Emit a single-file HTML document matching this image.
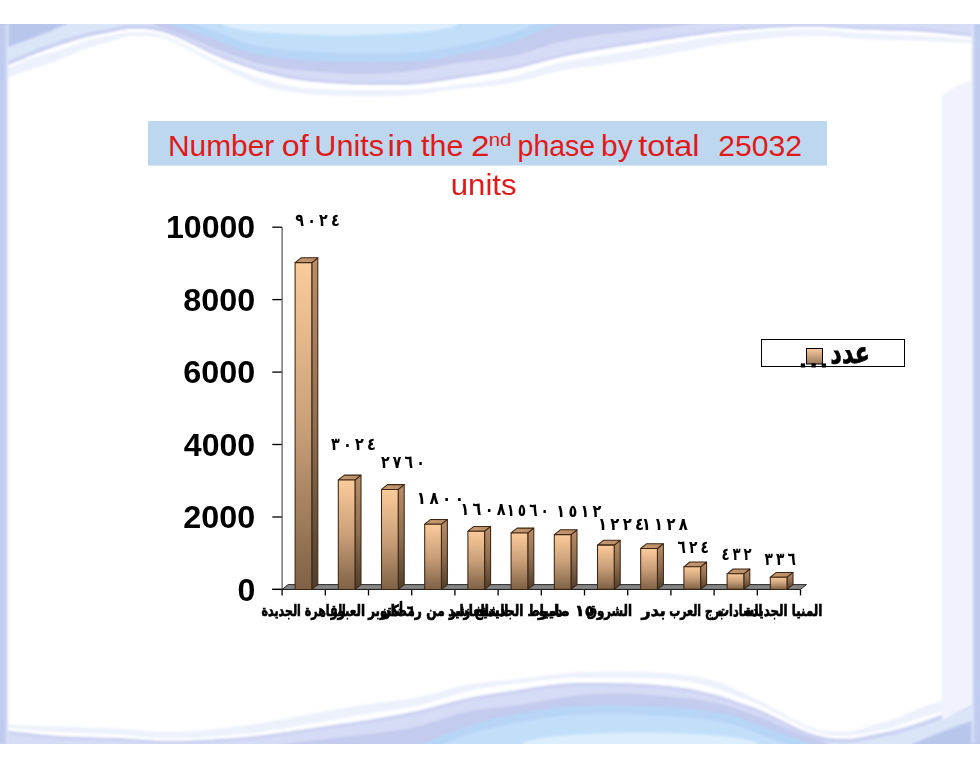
<!DOCTYPE html>
<html lang="ar"><head><meta charset="utf-8"><title>Number of Units in the 2nd phase</title>
<style>
html,body{margin:0;padding:0;background:#fff;}
body{width:980px;height:768px;overflow:hidden;position:relative;font-family:"Liberation Sans","DejaVu Sans",sans-serif;}
svg{position:absolute;left:0;top:0;display:block}
text{font-family:"Liberation Sans","DejaVu Sans",sans-serif;text-anchor:start}
.ttl{font-size:29px;fill:#e01a1a}
.sup{font-size:19px;fill:#e01a1a}
.ax{font-weight:bold;font-size:31px;fill:#000}
.dl{font-family:"DejaVu Sans","Liberation Sans",sans-serif;font-weight:bold;font-size:17.5px;fill:#000}
.cat{font-family:"DejaVu Sans","Liberation Sans",sans-serif;font-weight:bold;font-size:15.5px;fill:#000;stroke:#000;stroke-width:0.7px}
.leg{font-family:"DejaVu Sans","Liberation Sans",sans-serif;font-weight:bold;font-size:19px;fill:#000;stroke:#000;stroke-width:0.5px}
</style></head><body>
<svg width="980" height="768" viewBox="0 0 980 768">
<defs>
<linearGradient id="gf" x1="0" y1="0" x2="0" y2="1"><stop offset="0" stop-color="#fbcb9b"/><stop offset="0.5" stop-color="#caa079"/><stop offset="1" stop-color="#7e6146"/></linearGradient>
<linearGradient id="gs" x1="0" y1="0" x2="0" y2="1"><stop offset="0" stop-color="#b98e69"/><stop offset="0.5" stop-color="#8f6e51"/><stop offset="1" stop-color="#4f3d2c"/></linearGradient>
<linearGradient id="gt" x1="0" y1="0" x2="1" y2="0"><stop offset="0" stop-color="#c89b72"/><stop offset="1" stop-color="#b88c66"/></linearGradient>
<linearGradient id="gl" x1="0" y1="0" x2="0" y2="1"><stop offset="0" stop-color="#f7cba0"/><stop offset="1" stop-color="#9a775a"/></linearGradient>
<linearGradient id="wv" x1="0" y1="24" x2="0" y2="92" gradientUnits="userSpaceOnUse"><stop offset="0" stop-color="#cfe1f7"/><stop offset="0.55" stop-color="#bdd4f1"/><stop offset="1" stop-color="#c2cdef"/></linearGradient>
<linearGradient id="edge" x1="0" y1="0" x2="1" y2="0"><stop offset="0" stop-color="#bcc8ee"/><stop offset="0.7" stop-color="#c3cef0"/><stop offset="1" stop-color="#e8edfa"/></linearGradient>
<filter id="bl" x="-5%" y="-20%" width="110%" height="140%"><feGaussianBlur stdDeviation="0.9"/></filter>
<clipPath id="slide"><rect x="0" y="24" width="980" height="720"/></clipPath>
<g id="wave">
<path d="M-5,20 L-5,84 L1.0,81.1 L7.0,78.4 L13.0,75.9 L19.0,73.6 L25.0,71.4 L31.0,69.4 L37.0,67.3 L43.0,65.4 L49.0,63.4 L55.0,61.4 L61.0,59.1 L67.0,56.6 L73.0,53.9 L79.0,51.3 L85.0,49.0 L91.0,47.1 L97.0,45.4 L103.0,43.8 L109.0,42.1 L115.0,40.2 L121.0,38.2 L127.0,36.7 L133.0,36.2 L139.0,36.0 L145.0,36.0 L151.0,36.3 L157.0,37.1 L163.0,38.3 L169.0,40.4 L175.0,43.1 L181.0,46.0 L187.0,49.0 L193.0,52.1 L199.0,55.4 L205.0,58.6 L211.0,61.9 L217.0,65.2 L223.0,68.2 L229.0,71.1 L235.0,73.9 L241.0,76.6 L247.0,79.4 L253.0,82.2 L259.0,84.7 L265.0,86.5 L271.0,88.2 L277.0,89.6 L283.0,90.7 L289.0,91.7 L295.0,92.5 L301.0,93.2 L307.0,93.8 L313.0,94.2 L319.0,94.7 L325.0,95.1 L331.0,95.4 L337.0,95.8 L343.0,96.0 L349.0,96.3 L355.0,96.4 L361.0,96.5 L367.0,96.5 L373.0,96.5 L379.0,96.4 L385.0,96.3 L391.0,96.1 L397.0,95.8 L403.0,95.5 L409.0,95.1 L415.0,94.6 L421.0,93.9 L427.0,93.2 L433.0,92.4 L439.0,91.5 L445.0,90.6 L451.0,89.8 L457.0,89.0 L463.0,88.4 L469.0,87.8 L475.0,87.3 L481.0,86.8 L487.0,86.3 L493.0,85.7 L499.0,85.1 L505.0,84.3 L511.0,83.3 L517.0,82.1 L523.0,80.7 L529.0,79.1 L535.0,77.5 L541.0,75.8 L547.0,74.1 L553.0,72.6 L559.0,71.2 L565.0,70.0 L571.0,69.0 L577.0,68.1 L583.0,67.3 L589.0,66.5 L595.0,65.7 L601.0,64.9 L607.0,64.1 L613.0,63.3 L619.0,62.4 L625.0,61.4 L631.0,60.5 L637.0,59.5 L643.0,58.5 L649.0,57.4 L655.0,56.4 L661.0,55.3 L667.0,54.2 L673.0,53.1 L679.0,52.0 L685.0,50.9 L691.0,49.7 L697.0,48.6 L703.0,47.5 L709.0,46.4 L715.0,45.3 L721.0,44.3 L727.0,43.4 L733.0,42.5 L739.0,41.7 L745.0,41.0 L751.0,40.3 L757.0,39.6 L763.0,38.9 L769.0,38.3 L775.0,37.8 L781.0,37.3 L787.0,36.8 L793.0,36.5 L799.0,36.2 L805.0,36.0 L811.0,35.9 L817.0,36.0 L823.0,36.1 L829.0,36.4 L835.0,36.9 L841.0,37.4 L847.0,38.0 L853.0,38.5 L859.0,38.9 L865.0,39.3 L871.0,39.5 L877.0,39.8 L883.0,40.0 L889.0,40.2 L895.0,40.3 L901.0,40.5 L907.0,40.6 L913.0,40.7 L919.0,40.9 L925.0,41.1 L931.0,41.3 L937.0,41.5 L943.0,41.8 L949.0,42.0 L955.0,42.3 L961.0,42.6 L967.0,42.9 L973.0,43.2 L979.0,43.6 L985.0,44.0 L985,20 Z" fill="#ecf1fc"/>
<path d="M-5,20 L-5,73 L1.0,70.7 L7.0,68.4 L13.0,65.9 L19.0,63.3 L25.0,60.8 L31.0,58.4 L37.0,56.4 L43.0,54.6 L49.0,53.1 L55.0,51.5 L61.0,49.7 L67.0,47.5 L73.0,45.2 L79.0,43.0 L85.0,41.0 L91.0,39.4 L97.0,38.1 L103.0,36.8 L109.0,35.7 L115.0,34.5 L121.0,33.3 L127.0,32.5 L133.0,32.2 L139.0,32.1 L145.0,32.2 L151.0,32.8 L157.0,33.8 L163.0,35.3 L169.0,37.3 L175.0,39.8 L181.0,42.5 L187.0,45.5 L193.0,48.7 L199.0,51.9 L205.0,55.0 L211.0,58.1 L217.0,61.0 L223.0,63.7 L229.0,66.2 L235.0,68.5 L241.0,70.7 L247.0,73.1 L253.0,75.5 L259.0,77.7 L265.0,79.6 L271.0,81.3 L277.0,82.9 L283.0,84.4 L289.0,85.6 L295.0,86.7 L301.0,87.6 L307.0,88.3 L313.0,88.7 L319.0,89.1 L325.0,89.3 L331.0,89.5 L337.0,89.7 L343.0,89.8 L349.0,89.9 L355.0,90.0 L361.0,90.0 L367.0,90.0 L373.0,90.1 L379.0,90.1 L385.0,90.1 L391.0,90.1 L397.0,90.0 L403.0,89.9 L409.0,89.7 L415.0,89.5 L421.0,89.1 L427.0,88.5 L433.0,87.9 L439.0,87.2 L445.0,86.4 L451.0,85.6 L457.0,84.9 L463.0,84.1 L469.0,83.4 L475.0,82.7 L481.0,81.9 L487.0,81.1 L493.0,80.2 L499.0,79.2 L505.0,78.0 L511.0,76.8 L517.0,75.3 L523.0,73.6 L529.0,71.8 L535.0,69.9 L541.0,67.9 L547.0,66.1 L553.0,64.4 L559.0,62.8 L565.0,61.5 L571.0,60.4 L577.0,59.3 L583.0,58.3 L589.0,57.4 L595.0,56.6 L601.0,55.7 L607.0,54.8 L613.0,53.8 L619.0,52.8 L625.0,51.8 L631.0,50.7 L637.0,49.6 L643.0,48.5 L649.0,47.4 L655.0,46.4 L661.0,45.3 L667.0,44.3 L673.0,43.2 L679.0,42.2 L685.0,41.2 L691.0,40.1 L697.0,39.1 L703.0,38.2 L709.0,37.2 L715.0,36.4 L721.0,35.5 L727.0,34.8 L733.0,34.1 L739.0,33.5 L745.0,32.9 L751.0,32.4 L757.0,31.9 L763.0,31.5 L769.0,31.1 L775.0,30.7 L781.0,30.4 L787.0,30.1 L793.0,29.9 L799.0,29.7 L805.0,29.7 L811.0,29.7 L817.0,29.7 L823.0,29.9 L829.0,30.3 L835.0,30.7 L841.0,31.3 L847.0,31.9 L853.0,32.5 L859.0,32.9 L865.0,33.3 L871.0,33.6 L877.0,33.9 L883.0,34.1 L889.0,34.3 L895.0,34.5 L901.0,34.7 L907.0,34.9 L913.0,35.2 L919.0,35.4 L925.0,35.8 L931.0,36.2 L937.0,36.6 L943.0,37.1 L949.0,37.7 L955.0,38.2 L961.0,38.8 L967.0,39.3 L973.0,39.9 L979.0,40.4 L985.0,41.0 L985,20 Z" fill="#ffffff"/>
<path d="M-5,20 L-5,70 L1.0,67.7 L7.0,65.4 L13.0,63.0 L19.0,60.5 L25.0,58.0 L31.0,55.6 L37.0,53.2 L43.0,51.0 L49.0,48.8 L55.0,46.7 L61.0,44.7 L67.0,42.7 L73.0,40.8 L79.0,39.1 L85.0,37.5 L91.0,36.1 L97.0,34.9 L103.0,33.8 L109.0,32.6 L115.0,31.3 L121.0,29.9 L127.0,29.1 L133.0,28.8 L139.0,28.8 L145.0,29.0 L151.0,29.6 L157.0,30.7 L163.0,32.1 L169.0,34.0 L175.0,36.2 L181.0,38.7 L187.0,41.4 L193.0,44.4 L199.0,47.5 L205.0,50.5 L211.0,53.4 L217.0,56.2 L223.0,58.7 L229.0,61.0 L235.0,63.1 L241.0,65.1 L247.0,67.2 L253.0,69.3 L259.0,71.2 L265.0,72.9 L271.0,74.4 L277.0,75.9 L283.0,77.2 L289.0,78.4 L295.0,79.4 L301.0,80.3 L307.0,81.1 L313.0,81.7 L319.0,82.3 L325.0,82.8 L331.0,83.2 L337.0,83.6 L343.0,83.9 L349.0,84.2 L355.0,84.4 L361.0,84.5 L367.0,84.6 L373.0,84.7 L379.0,84.8 L385.0,84.8 L391.0,84.8 L397.0,84.8 L403.0,84.7 L409.0,84.5 L415.0,84.2 L421.0,83.7 L427.0,83.1 L433.0,82.2 L439.0,81.3 L445.0,80.4 L451.0,79.4 L457.0,78.4 L463.0,77.6 L469.0,76.7 L475.0,75.8 L481.0,75.0 L487.0,74.1 L493.0,73.1 L499.0,72.1 L505.0,71.0 L511.0,69.8 L517.0,68.5 L523.0,67.0 L529.0,65.4 L535.0,63.8 L541.0,62.2 L547.0,60.6 L553.0,59.1 L559.0,57.6 L565.0,56.3 L571.0,55.0 L577.0,53.8 L583.0,52.7 L589.0,51.6 L595.0,50.5 L601.0,49.5 L607.0,48.5 L613.0,47.5 L619.0,46.6 L625.0,45.7 L631.0,44.8 L637.0,43.9 L643.0,43.0 L649.0,42.2 L655.0,41.3 L661.0,40.5 L667.0,39.6 L673.0,38.7 L679.0,37.8 L685.0,37.0 L691.0,36.1 L697.0,35.2 L703.0,34.4 L709.0,33.6 L715.0,32.8 L721.0,32.1 L727.0,31.4 L733.0,30.8 L739.0,30.3 L745.0,29.8 L751.0,29.3 L757.0,28.9 L763.0,28.5 L769.0,28.1 L775.0,27.8 L781.0,27.5 L787.0,27.3 L793.0,27.1 L799.0,27.0 L805.0,26.9 L811.0,26.9 L817.0,26.9 L823.0,27.1 L829.0,27.4 L835.0,27.7 L841.0,28.2 L847.0,28.6 L853.0,29.1 L859.0,29.4 L865.0,29.7 L871.0,30.0 L877.0,30.1 L883.0,30.3 L889.0,30.5 L895.0,30.6 L901.0,30.8 L907.0,31.0 L913.0,31.2 L919.0,31.5 L925.0,31.9 L931.0,32.4 L937.0,32.9 L943.0,33.5 L949.0,34.2 L955.0,34.9 L961.0,35.5 L967.0,36.2 L973.0,36.8 L979.0,37.4 L985.0,38.0 L985,20 Z" fill="#d5dcf5"/>
<path d="M-5,20 L-5,70 L1.0,67.7 L7.0,65.4 L13.0,63.0 L19.0,60.5 L25.0,58.0 L31.0,55.6 L37.0,53.2 L43.0,51.0 L49.0,48.8 L55.0,46.7 L61.0,44.7 L67.0,42.7 L73.0,40.8 L79.0,39.1 L85.0,37.5 L91.0,36.1 L97.0,34.9 L103.0,33.8 L109.0,32.6 L115.0,31.3 L121.0,30.0 L127.0,29.1 L133.0,28.8 L139.0,28.8 L145.0,29.0 L151.0,29.7 L157.0,30.8 L160.0,31.4 L160,20 Z" fill="#dae5f8"/>
<path d="M-5,68 L1.0,65.7 L7.0,63.4 L13.0,61.0 L19.0,58.5 L25.0,56.0 L31.0,53.6 L37.0,51.2 L43.0,49.0 L49.0,46.8 L55.0,44.7 L61.0,42.7 L67.0,40.7 L73.0,38.8 L79.0,37.1 L85.0,35.5 L91.0,34.1 L97.0,32.9 L103.0,31.8 L109.0,30.6 L115.0,29.3 L121.0,27.9 L127.0,27.1 L133.0,26.8 L139.0,26.8 L145.0,27.0 L151.0,27.6 L157.0,28.7 L163.0,30.2 L169.0,32.0 L175.0,34.2 L181.0,36.7" fill="none" stroke="#cad2f2" stroke-width="4"/>
<path d="M181,37.2 L187.0,40.2 L193.0,43.1 L199.0,46.0 L205.0,49.0 L211.0,51.9 L217.0,54.6 L223.0,57.2 L229.0,59.5 L235.0,61.6 L241.0,63.6 L247.0,65.7 L253.0,67.8 L259.0,69.7 L265.0,71.4 L271.0,72.9 L277.0,74.4 L283.0,75.7 L289.0,76.9 L295.0,77.9 L301.0,78.8 L307.0,79.6 L313.0,80.2 L319.0,80.8 L325.0,81.3 L331.0,81.7 L337.0,82.1 L343.0,82.4 L349.0,82.7 L355.0,82.9 L361.0,83.0 L367.0,83.1 L373.0,83.2 L379.0,83.3 L385.0,83.3 L391.0,83.3 L397.0,83.3 L403.0,83.2 L409.0,83.0 L415.0,82.7 L421.0,82.2 L427.0,81.6 L433.0,80.7 L439.0,79.8 L445.0,78.9 L451.0,77.9 L457.0,76.9 L463.0,76.1 L469.0,75.2 L475.0,74.3 L481.0,73.5 L487.0,72.6 L493.0,71.6 L499.0,70.6 L505.0,69.5 L511.0,68.3 L517.0,67.0 L523.0,65.5 L529.0,63.9 L535.0,62.3 L541.0,60.7 L547.0,59.1 L553.0,57.6 L559.0,56.1 L565.0,54.8 L571.0,53.5 L577.0,52.3 L583.0,51.2 L589.0,50.1 L595.0,49.0 L601.0,48.0 L607.0,47.0 L613.0,46.0 L619.0,45.1 L625.0,44.2 L631.0,43.3 L637.0,42.4 L643.0,41.5 L649.0,40.7 L655.0,39.8 L661.0,39.0 L667.0,38.1 L673.0,37.2 L679.0,36.3 L685.0,35.5 L691.0,34.6 L697.0,33.7 L703.0,32.9 L709.0,32.1 L715.0,31.3 L721.0,30.6 L727.0,29.9 L733.0,29.3 L739.0,28.8 L745.0,28.3 L751.0,27.8 L757.0,27.4 L763.0,27.0 L769.0,26.6 L775.0,26.3 L781.0,26.0 L787.0,25.8 L793.0,25.6 L799.0,25.5 L805.0,25.4 L811.0,25.4 L817.0,25.4 L823.0,25.6 L829.0,25.9 L835.0,26.2 L841.0,26.7 L847.0,27.1 L853.0,27.6 L859.0,27.9 L865.0,28.2 L871.0,28.5 L877.0,28.6 L883.0,28.8 L889.0,29.0 L895.0,29.1 L901.0,29.3 L907.0,29.5 L913.0,29.7 L919.0,30.0 L925.0,30.4 L931.0,30.9 L937.0,31.4 L943.0,32.0 L949.0,32.7 L955.0,33.4 L961.0,34.0 L967.0,34.7 L973.0,35.3 L979.0,35.9 L985.0,36.5" fill="none" stroke="#ccd2f2" stroke-width="3"/>
<path d="M150,20 L150,23 L156.0,25.5 L162.0,27.7 L168.0,29.7 L174.0,31.6 L180.0,33.6 L186.0,36.0 L192.0,38.6 L198.0,41.2 L204.0,43.9 L210.0,46.5 L216.0,49.0 L222.0,51.3 L228.0,53.5 L234.0,55.5 L240.0,57.5 L246.0,59.5 L252.0,61.4 L258.0,63.2 L264.0,64.6 L270.0,65.8 L276.0,66.9 L282.0,67.9 L288.0,68.7 L294.0,69.4 L300.0,70.1 L306.0,70.7 L312.0,71.2 L318.0,71.7 L324.0,72.2 L330.0,72.6 L336.0,73.1 L342.0,73.4 L348.0,73.7 L354.0,73.9 L360.0,74.0 L366.0,74.0 L372.0,73.9 L378.0,73.6 L384.0,73.3 L390.0,72.9 L396.0,72.4 L402.0,71.9 L408.0,71.2 L414.0,70.5 L420.0,69.6 L426.0,68.6 L432.0,67.5 L438.0,66.4 L444.0,65.2 L450.0,64.2 L456.0,63.2 L462.0,62.3 L468.0,61.6 L474.0,61.0 L480.0,60.4 L486.0,59.8 L492.0,59.1 L498.0,58.3 L504.0,57.5 L510.0,56.4 L516.0,55.1 L522.0,53.5 L528.0,51.6 L534.0,49.7 L540.0,47.7 L546.0,45.8 L552.0,43.9 L558.0,42.3 L564.0,40.9 L570.0,39.6 L576.0,38.5 L582.0,37.4 L588.0,36.5 L594.0,35.6 L600.0,34.8 L606.0,34.0 L612.0,33.3 L618.0,32.6 L624.0,31.9 L630.0,31.2 L636.0,30.6 L642.0,30.0 L648.0,29.3 L654.0,28.7 L660.0,28.0 L666.0,27.3 L672.0,26.6 L678.0,25.8 L684.0,25.1 L690.0,24.3 L696.0,23.5 L700.0,23.0 L700,20 Z" fill="#c3cbee"/>
<path d="M168,20 L168,23 L174.0,25.5 L180.0,27.9 L186.0,30.1 L192.0,32.2 L198.0,34.2 L204.0,36.2 L210.0,38.2 L216.0,40.4 L222.0,42.6 L228.0,45.1 L234.0,47.6 L240.0,50.0 L246.0,51.9 L252.0,53.4 L258.0,54.7 L264.0,55.6 L270.0,56.5 L276.0,57.4 L282.0,58.1 L288.0,58.7 L294.0,59.3 L300.0,59.8 L306.0,60.2 L312.0,60.6 L318.0,61.0 L324.0,61.3 L330.0,61.6 L336.0,61.9 L342.0,62.2 L348.0,62.4 L354.0,62.5 L360.0,62.6 L366.0,62.6 L372.0,62.7 L378.0,62.6 L384.0,62.6 L390.0,62.4 L396.0,62.3 L402.0,62.0 L408.0,61.7 L414.0,61.3 L420.0,60.7 L426.0,60.0 L432.0,59.1 L438.0,58.2 L444.0,57.2 L450.0,56.1 L456.0,55.0 L462.0,53.9 L468.0,52.8 L474.0,51.7 L480.0,50.5 L486.0,49.2 L492.0,47.8 L498.0,46.3 L504.0,44.6 L510.0,42.8 L516.0,40.7 L522.0,38.4 L528.0,36.0 L534.0,33.5 L540.0,31.0 L546.0,28.6 L552.0,26.2 L558.0,23.8 L560.0,23.0 L560,20 Z" fill="#b7d5f6"/>
<path d="M168,20 L168,14 L174.0,16.5 L180.0,18.9 L186.0,21.1 L192.0,23.2 L198.0,25.2 L204.0,27.2 L210.0,29.2 L216.0,31.4 L222.0,33.6 L228.0,36.1 L234.0,38.6 L240.0,41.0 L246.0,42.9 L252.0,44.4 L258.0,45.7 L264.0,46.6 L270.0,47.5 L276.0,48.4 L282.0,49.1 L288.0,49.7 L294.0,50.3 L300.0,50.8 L306.0,51.2 L312.0,51.6 L318.0,52.0 L324.0,52.3 L330.0,52.6 L336.0,52.9 L342.0,53.2 L348.0,53.4 L354.0,53.5 L360.0,53.6 L366.0,53.6 L372.0,53.7 L378.0,53.6 L384.0,53.6 L390.0,53.4 L396.0,53.3 L402.0,53.0 L408.0,52.7 L414.0,52.3 L420.0,51.7 L426.0,51.0 L432.0,50.1 L438.0,49.2 L444.0,48.2 L450.0,47.1 L456.0,46.0 L462.0,44.9 L468.0,43.8 L474.0,42.7 L480.0,41.5 L486.0,40.2 L492.0,38.8 L498.0,37.3 L504.0,35.6 L510.0,33.8 L516.0,31.7 L522.0,29.4 L528.0,27.0 L534.0,24.5 L540.0,22.0 L546.0,19.6 L552.0,17.2 L558.0,14.8 L560.0,14.0 L560,20 Z" fill="#c2dffa"/>
<ellipse cx="340" cy="23" rx="118" ry="12" fill="#dceefd"/>
<path d="M-5,20 L70,20 L67,24 C45,34 25,41 7,47.6 L-5,52 Z" fill="#b9c6ec"/>
</g>
</defs>
<g clip-path="url(#slide)">
<g filter="url(#bl)">
<use href="#wave"/>
<use href="#wave" transform="rotate(180 490 383.85)"/>
<rect x="-1.5" y="24" width="9.8" height="720" fill="url(#edge)"/>
<rect x="-1.5" y="24" width="9.8" height="720" fill="url(#edge)" transform="rotate(180 490 383.85)"/>
<path d="M942,96 C950,88 962,84 972,80 L972,705 L942,720 Z" fill="#f1f3fc"/>
</g>
</g>

<rect x="148" y="121" width="679" height="44.6" fill="#bdd7ee"/>
<g stroke="#000" stroke-width="1.3" fill="none">
<line x1="272.3" y1="589.4" x2="282.1" y2="589.4"/>
<line x1="272.3" y1="517.0" x2="282.1" y2="517.0"/>
<line x1="272.3" y1="444.5" x2="282.1" y2="444.5"/>
<line x1="272.3" y1="372.1" x2="282.1" y2="372.1"/>
<line x1="272.3" y1="299.6" x2="282.1" y2="299.6"/>
<line x1="272.3" y1="227.2" x2="282.1" y2="227.2"/>
<line x1="272.3" y1="589.4" x2="800.5" y2="589.4"/>
<line x1="282.1" y1="589.4" x2="282.1" y2="595.4"/>
<line x1="325.3" y1="589.4" x2="325.3" y2="595.4"/>
<line x1="368.5" y1="589.4" x2="368.5" y2="595.4"/>
<line x1="411.7" y1="589.4" x2="411.7" y2="595.4"/>
<line x1="454.9" y1="589.4" x2="454.9" y2="595.4"/>
<line x1="498.1" y1="589.4" x2="498.1" y2="595.4"/>
<line x1="541.3" y1="589.4" x2="541.3" y2="595.4"/>
<line x1="584.5" y1="589.4" x2="584.5" y2="595.4"/>
<line x1="627.7" y1="589.4" x2="627.7" y2="595.4"/>
<line x1="670.9" y1="589.4" x2="670.9" y2="595.4"/>
<line x1="714.1" y1="589.4" x2="714.1" y2="595.4"/>
<line x1="757.3" y1="589.4" x2="757.3" y2="595.4"/>
<line x1="800.5" y1="589.4" x2="800.5" y2="595.4"/>
</g>
<line x1="282.1" y1="227" x2="282.1" y2="589.4" stroke="#555" stroke-width="1.2"/>
<path d="M282.1,589.4 L288.1,584.6 L806.5,584.6 L800.5,589.4 Z" fill="#858585" stroke="#1a1a1a" stroke-width="0.9"/>
<g stroke="#3d2612" stroke-width="1.05" stroke-linejoin="round">
<path d="M311.8,262.6 l6.0,-4.8 V584.6 l-6.0,4.8 Z" fill="url(#gs)"/>
<path d="M295.1,262.6 l6.0,-4.8 h16.7 l-6.0,4.8 Z" fill="url(#gt)"/>
<rect x="295.1" y="262.6" width="16.7" height="326.8" fill="url(#gf)"/>
</g>
<g stroke="#3d2612" stroke-width="1.05" stroke-linejoin="round">
<path d="M355.0,479.9 l6.0,-4.8 V584.6 l-6.0,4.8 Z" fill="url(#gs)"/>
<path d="M338.3,479.9 l6.0,-4.8 h16.7 l-6.0,4.8 Z" fill="url(#gt)"/>
<rect x="338.3" y="479.9" width="16.7" height="109.5" fill="url(#gf)"/>
</g>
<g stroke="#3d2612" stroke-width="1.05" stroke-linejoin="round">
<path d="M398.2,489.4 l6.0,-4.8 V584.6 l-6.0,4.8 Z" fill="url(#gs)"/>
<path d="M381.5,489.4 l6.0,-4.8 h16.7 l-6.0,4.8 Z" fill="url(#gt)"/>
<rect x="381.5" y="489.4" width="16.7" height="100.0" fill="url(#gf)"/>
</g>
<g stroke="#3d2612" stroke-width="1.05" stroke-linejoin="round">
<path d="M441.4,524.2 l6.0,-4.8 V584.6 l-6.0,4.8 Z" fill="url(#gs)"/>
<path d="M424.7,524.2 l6.0,-4.8 h16.7 l-6.0,4.8 Z" fill="url(#gt)"/>
<rect x="424.7" y="524.2" width="16.7" height="65.2" fill="url(#gf)"/>
</g>
<g stroke="#3d2612" stroke-width="1.05" stroke-linejoin="round">
<path d="M484.6,531.2 l6.0,-4.8 V584.6 l-6.0,4.8 Z" fill="url(#gs)"/>
<path d="M467.9,531.2 l6.0,-4.8 h16.7 l-6.0,4.8 Z" fill="url(#gt)"/>
<rect x="467.9" y="531.2" width="16.7" height="58.2" fill="url(#gf)"/>
</g>
<g stroke="#3d2612" stroke-width="1.05" stroke-linejoin="round">
<path d="M527.8,532.9 l6.0,-4.8 V584.6 l-6.0,4.8 Z" fill="url(#gs)"/>
<path d="M511.1,532.9 l6.0,-4.8 h16.7 l-6.0,4.8 Z" fill="url(#gt)"/>
<rect x="511.1" y="532.9" width="16.7" height="56.5" fill="url(#gf)"/>
</g>
<g stroke="#3d2612" stroke-width="1.05" stroke-linejoin="round">
<path d="M571.0,534.6 l6.0,-4.8 V584.6 l-6.0,4.8 Z" fill="url(#gs)"/>
<path d="M554.3,534.6 l6.0,-4.8 h16.7 l-6.0,4.8 Z" fill="url(#gt)"/>
<rect x="554.3" y="534.6" width="16.7" height="54.8" fill="url(#gf)"/>
</g>
<g stroke="#3d2612" stroke-width="1.05" stroke-linejoin="round">
<path d="M614.2,545.1 l6.0,-4.8 V584.6 l-6.0,4.8 Z" fill="url(#gs)"/>
<path d="M597.5,545.1 l6.0,-4.8 h16.7 l-6.0,4.8 Z" fill="url(#gt)"/>
<rect x="597.5" y="545.1" width="16.7" height="44.3" fill="url(#gf)"/>
</g>
<g stroke="#3d2612" stroke-width="1.05" stroke-linejoin="round">
<path d="M657.4,548.5 l6.0,-4.8 V584.6 l-6.0,4.8 Z" fill="url(#gs)"/>
<path d="M640.7,548.5 l6.0,-4.8 h16.7 l-6.0,4.8 Z" fill="url(#gt)"/>
<rect x="640.7" y="548.5" width="16.7" height="40.9" fill="url(#gf)"/>
</g>
<g stroke="#3d2612" stroke-width="1.05" stroke-linejoin="round">
<path d="M700.6,566.8 l6.0,-4.8 V584.6 l-6.0,4.8 Z" fill="url(#gs)"/>
<path d="M683.9,566.8 l6.0,-4.8 h16.7 l-6.0,4.8 Z" fill="url(#gt)"/>
<rect x="683.9" y="566.8" width="16.7" height="22.6" fill="url(#gf)"/>
</g>
<g stroke="#3d2612" stroke-width="1.05" stroke-linejoin="round">
<path d="M743.8,573.8 l6.0,-4.8 V584.6 l-6.0,4.8 Z" fill="url(#gs)"/>
<path d="M727.1,573.8 l6.0,-4.8 h16.7 l-6.0,4.8 Z" fill="url(#gt)"/>
<rect x="727.1" y="573.8" width="16.7" height="15.6" fill="url(#gf)"/>
</g>
<g stroke="#3d2612" stroke-width="1.05" stroke-linejoin="round">
<path d="M787.0,577.2 l6.0,-4.8 V584.6 l-6.0,4.8 Z" fill="url(#gs)"/>
<path d="M770.3,577.2 l6.0,-4.8 h16.7 l-6.0,4.8 Z" fill="url(#gt)"/>
<rect x="770.3" y="577.2" width="16.7" height="12.2" fill="url(#gf)"/>
</g>
<rect x="761.5" y="339.5" width="143" height="27" fill="#fff" stroke="#000" stroke-width="1"/>
<rect x="806.5" y="348.5" width="16" height="15.5" fill="url(#gl)" stroke="#000" stroke-width="1"/>
<rect x="800.8" y="363.4" width="4.3" height="4.1" fill="#000"/>
<rect x="811.5" y="363.4" width="4.3" height="4.1" fill="#000"/>
<rect x="821.7" y="363.4" width="4.3" height="4.1" fill="#000"/>
<text class="ttl" direction="ltr"  transform="translate(167.98,156.2) scale(1.031,1.000)">Number</text>
<text class="ttl" direction="ltr"  transform="translate(281.81,156.2) scale(1.109,1.000)">of</text>
<text class="ttl" direction="ltr"  transform="translate(314.33,156.2) scale(1.055,1.000)">Units</text>
<text class="ttl" direction="ltr"  transform="translate(387.51,156.2) scale(1.147,1.000)">in</text>
<text class="ttl" direction="ltr"  transform="translate(421.08,156.2) scale(1.049,1.000)">the</text>
<text class="ttl" direction="ltr"  transform="translate(470.88,156.2) scale(1.147,1.000)">2</text>
<text class="sup" direction="ltr"  transform="translate(488.65,146.3) scale(1.077,1.000)">nd</text>
<text class="ttl" direction="ltr"  transform="translate(517.58,156.2) scale(0.980,1.000)">phase</text>
<text class="ttl" direction="ltr"  transform="translate(600.99,156.2) scale(1.033,1.000)">by</text>
<text class="ttl" direction="ltr"  transform="translate(638.14,156.2) scale(1.122,1.000)">total</text>
<text class="ttl" direction="ltr"  transform="translate(718.24,156.2) scale(1.039,1.000)">25032</text>
<text class="ttl" direction="ltr"  transform="translate(450.82,194.7) scale(1.072,1.000)">units</text>
<text class="ax" direction="ltr"  transform="translate(237.40,600.6) scale(1.037,1.000)">0</text>
<text class="ax" direction="ltr"  transform="translate(183.26,528.2) scale(1.044,1.000)">2000</text>
<text class="ax" direction="ltr"  transform="translate(183.78,455.7) scale(1.036,1.000)">4000</text>
<text class="ax" direction="ltr"  transform="translate(183.26,383.3) scale(1.044,1.000)">6000</text>
<text class="ax" direction="ltr"  transform="translate(183.26,310.8) scale(1.044,1.000)">8000</text>
<text class="ax" direction="ltr"  transform="translate(165.93,238.4) scale(1.036,1.000)">10000</text>
<text class="dl" direction="ltr" dx="0 3.9 3.9 3.9" transform="translate(295.29,225.9) scale(0.817,1.000)">٩٠٢٤</text>
<text class="dl" direction="ltr" dx="0 3.9 3.9 3.9" transform="translate(330.99,450.0) scale(0.825,1.000)">٣٠٢٤</text>
<text class="dl" direction="ltr" dx="0 3.9 3.9 3.9" transform="translate(381.00,468.4) scale(0.808,1.000)">٢٧٦٠</text>
<text class="dl" direction="ltr" dx="0 3.9 3.9 3.9" transform="translate(416.83,504.1) scale(0.866,1.000)">١٨٠٠</text>
<text class="dl" direction="ltr" dx="0 3.9 3.9 3.9" transform="translate(460.53,515.1) scale(0.829,1.000)">١٦٠٨</text>
<text class="dl" direction="ltr" dx="0 3.9 3.9 3.9" transform="translate(506.45,516.1) scale(0.781,1.000)">١٥٦٠</text>
<text class="dl" direction="ltr" dx="0 3.9 3.9 3.9" transform="translate(556.33,517.1) scale(0.827,1.000)">١٥١٢</text>
<text class="dl" direction="ltr" dx="0 3.9 3.9 3.9" transform="translate(597.99,530.4) scale(0.846,1.000)">١٢٢٤</text>
<text class="dl" direction="ltr" dx="0 3.9 3.9 3.9" transform="translate(641.78,530.4) scale(0.846,1.000)">١١٢٨</text>
<text class="dl" direction="ltr" dx="0 3.9 3.9" transform="translate(677.61,553.3) scale(0.787,1.000)">٦٢٤</text>
<text class="dl" direction="ltr" dx="0 3.9 3.9" transform="translate(721.56,560.4) scale(0.756,1.000)">٤٣٢</text>
<text class="dl" direction="ltr" dx="0 3.9 3.9" transform="translate(764.50,564.5) scale(0.787,1.000)">٣٣٦</text>
<text class="cat" direction="rtl"  transform="translate(345.89,615.8) scale(0.714,1.000)">القاهرة الجديدة</text>
<text class="cat" direction="rtl"  transform="translate(365.11,615.8) scale(0.768,1.000)">العبور</text>
<text class="cat" direction="rtl"  transform="translate(414.18,615.8) scale(0.757,1.000)">٦ أكتوبر</text>
<text class="cat" direction="rtl"  transform="translate(488.94,615.8) scale(0.790,1.000)">العاشر من رمضان</text>
<text class="cat" direction="rtl"  transform="translate(508.41,615.8) scale(0.765,1.000)">الشيخ زايد</text>
<text class="cat" direction="rtl"  transform="translate(562.49,615.8) scale(0.765,1.000)">دمياط الجديدة</text>
<text class="cat" direction="rtl"  transform="translate(594.21,615.8) scale(1.011,1.000)">١٥ مايو</text>
<text class="cat" direction="rtl"  transform="translate(632.00,615.8) scale(0.759,1.000)">الشروق</text>
<text class="cat" direction="rtl"  transform="translate(665.73,615.8) scale(1.022,1.000)">بدر</text>
<text class="cat" direction="rtl"  transform="translate(723.73,615.8) scale(0.707,1.000)">برج العرب</text>
<text class="cat" direction="rtl"  transform="translate(762.41,615.8) scale(0.726,1.000)">السادات</text>
<text class="cat" direction="rtl"  transform="translate(822.36,615.8) scale(0.766,1.000)">المنيا الجديدة</text>
<text class="leg" direction="rtl"  transform="translate(869.83,363.2) scale(1.164,1.571)">عدد</text>
</svg>
</body></html>
